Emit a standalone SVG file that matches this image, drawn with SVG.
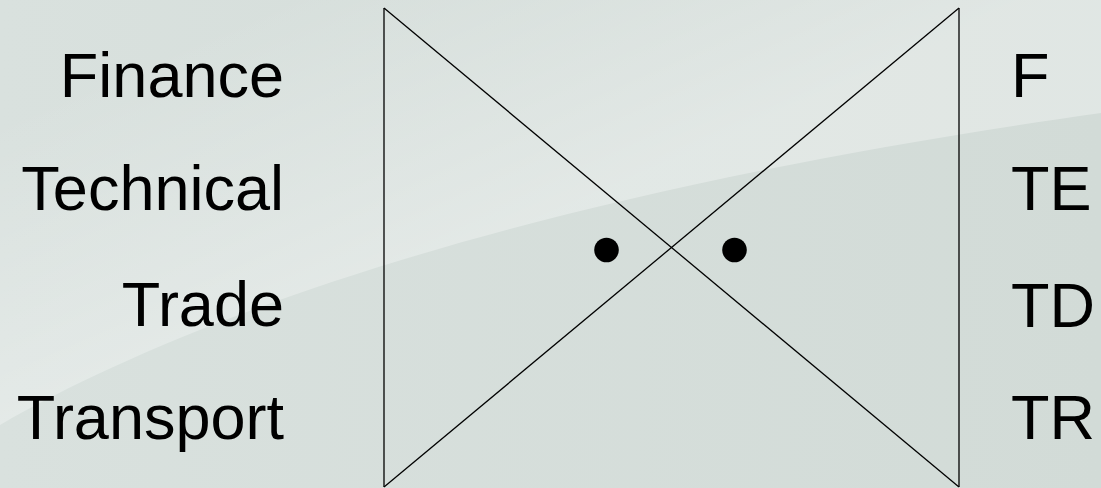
<svg xmlns="http://www.w3.org/2000/svg" width="1101" height="488" viewBox="0 0 1101 488">
  <defs>
    <linearGradient id="bg" x1="0" y1="0" x2="1" y2="0">
      <stop offset="0" stop-color="#d9e1de"/>
      <stop offset="1" stop-color="#d2dbd7"/>
    </linearGradient>
    <linearGradient id="swoosh" gradientUnits="userSpaceOnUse" x1="300" y1="320" x2="180" y2="40">
      <stop offset="0" stop-color="#ffffff" stop-opacity="0.32"/>
      <stop offset="1" stop-color="#ffffff" stop-opacity="0"/>
    </linearGradient>
    <style>
      .lbl { font-family: "Liberation Sans", Arial, sans-serif; font-size: 63px; fill: #000; }
      .l { text-anchor: end; }
      .ln { stroke: #000; stroke-width: 1.3; fill: none; }
    </style>
  </defs>
  <g id="background">
    <rect x="0" y="0" width="1101" height="488" fill="url(#bg)"/>
    <path d="M0,425 C200,310 550,190 1101,113 L1101,0 L0,0 Z" fill="url(#swoosh)"/>
  </g>
  <g id="connectors">
    <line class="ln" x1="384" y1="8" x2="384" y2="487"/>
    <line class="ln" x1="959" y1="8" x2="959" y2="487"/>
    <line class="ln" x1="384" y1="8" x2="959" y2="487"/>
    <line class="ln" x1="959" y1="8" x2="384" y2="487"/>
  </g>
  <g id="dots">
    <circle cx="606.5" cy="250" r="12.3" fill="#000"/>
    <circle cx="734.5" cy="250" r="12.3" fill="#000"/>
  </g>
  <g id="left-labels">
    <g id="finance"><text class="lbl l" x="284" y="97">Finance</text></g>
    <g id="technical"><text class="lbl l" x="284" y="210">Technical</text></g>
    <g id="trade"><text class="lbl l" x="284" y="326">Trade</text></g>
    <g id="transport"><text class="lbl l" x="284" y="439">Transport</text></g>
  </g>
  <g id="right-labels">
    <g id="f"><text class="lbl" x="1011" y="97">F</text></g>
    <g id="te"><text class="lbl" x="1011" y="210">TE</text></g>
    <g id="td"><text class="lbl" x="1011" y="327">TD</text></g>
    <g id="tr"><text class="lbl" x="1011" y="439">TR</text></g>
  </g>
</svg>
